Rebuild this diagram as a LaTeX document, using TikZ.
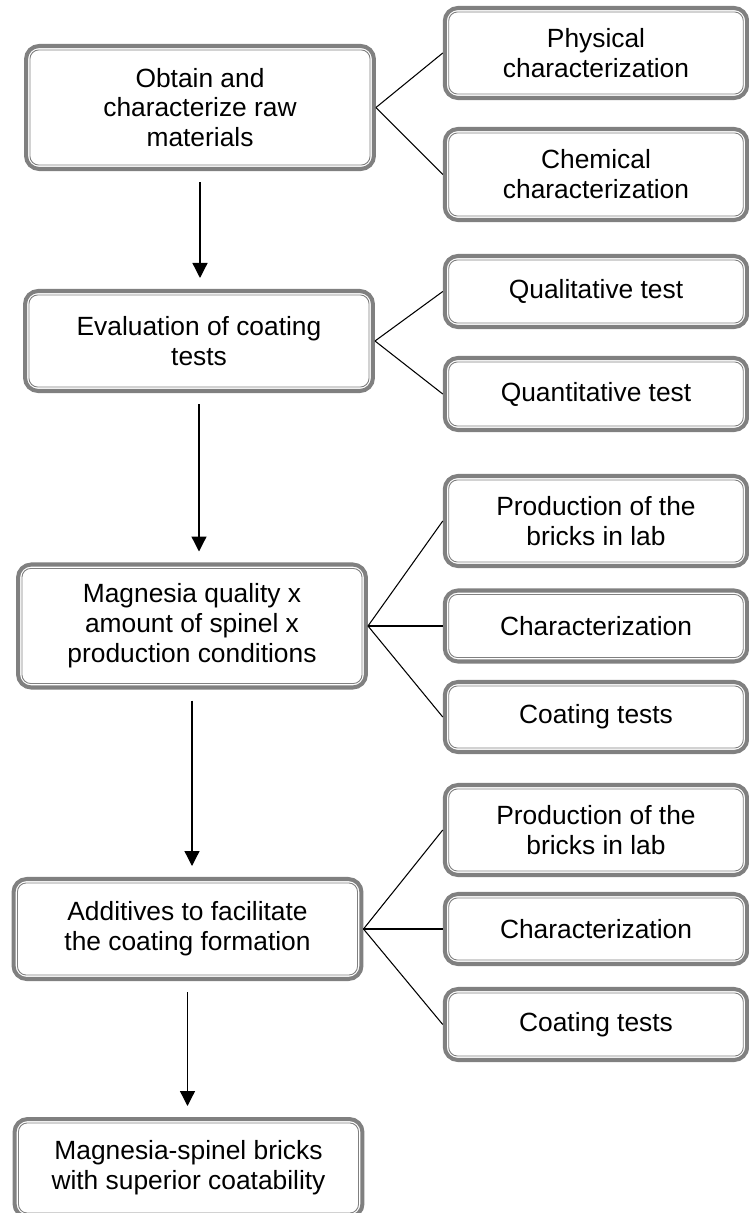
\documentclass[tikz,border=0pt]{standalone}
\usepackage{fontspec}
\setmainfont{Liberation Sans}
\usetikzlibrary{arrows.meta}
\definecolor{frameGray}{RGB}{128,128,128}

\begin{document}
\begin{tikzpicture}[x = 0.02cm, y = -0.02cm]
	\tikzstyle{boxStyle} = [draw = frameGray, line width = 2.3pt, rounded corners = 7.5pt, align = center, inner sep = 2pt, font = \fontsize{15}{17}\selectfont]
	\tikzstyle{stepStyle} = [boxStyle, minimum width = 6.96cm]
	\tikzstyle{taskStyle} = [boxStyle, minimum width = 6.05cm]
	\tikzstyle{innerStyle} = [draw = frameGray, line width = 0.5pt, rounded corners = 5pt]
	\tikzstyle{arrowStyle} = [-{Triangle[length = 0.3cm, width = 0.3cm]}, line width = 0.75pt, shorten < = 0.22cm, shorten > = 0.22cm]
	\tikzstyle{lineStyle} = [line width = 0.6pt]
	\path[use as bounding box, fill = white] (0, 0) rectangle (749, 1213);
	\node[stepStyle, minimum height = 2.46cm] (raw) at (200, 107.5) {Obtain and\\characterize raw\\materials};
	\node[stepStyle, minimum height = 2.0cm] (eval) at (199, 341) {Evaluation of coating\\tests};
	\node[stepStyle, minimum height = 2.46cm] (magn) at (192, 626) {Magnesia quality x\\amount of spinel x\\production conditions};
	\node[stepStyle, minimum height = 2.0cm] (addit) at (187.5, 929) {Additives to facilitate\\the coating formation};
	\node[stepStyle, minimum height = 1.96cm] (final) at (188.5, 1168) {Magnesia-spinel bricks\\with superior coatability};
	\node[taskStyle, minimum height = 1.8cm] (phys) at (596, 53) {Physical\\characterization};
	\node[taskStyle, minimum height = 1.82cm] (chem) at (596, 174.5) {Chemical\\characterization};
	\node[taskStyle, minimum height = 1.42cm] (qual) at (596, 291.5) {Qualitative test};
	\node[taskStyle, minimum height = 1.44cm] (quant) at (596, 394) {Quantitative test};
	\node[taskStyle, minimum height = 1.8cm] (prod1) at (596, 521) {Production of the\\bricks in lab};
	\node[taskStyle, minimum height = 1.42cm] (char1) at (596, 626) {Characterization};
	\node[taskStyle, minimum height = 1.4cm] (coat1) at (596, 717) {Coating tests};
	\node[taskStyle, minimum height = 1.8cm] (prod2) at (596, 830) {Production of the\\bricks in lab};
	\node[taskStyle, minimum height = 1.4cm] (char2) at (596, 929) {Characterization};
	\node[taskStyle, minimum height = 1.42cm] (coat2) at (596, 1024.5) {Coating tests};
	\foreach \n in {raw, eval, magn, addit, final, phys, chem, qual, quant, prod1, char1, coat1, prod2, char2, coat2}
		\draw[innerStyle] ([shift = {(3.4pt, -3.4pt)}]\n.north west) rectangle ([shift = {(-3.4pt, 3.4pt)}]\n.south east);
	\draw[arrowStyle] (raw) -- (raw |- eval.north);
	\draw[arrowStyle] (eval) -- (eval |- magn.north);
	\draw[arrowStyle] (magn) -- (magn |- addit.north);
	\draw[arrowStyle] (addit) -- (addit |- final.north);
	\foreach \t in {phys, chem}
		\draw[lineStyle] (raw.east) -- (\t.west);
	\foreach \t in {qual, quant}
		\draw[lineStyle] (eval.east) -- (\t.west);
	\foreach \t in {prod1, char1, coat1}
		\draw[lineStyle] (magn.east) -- (\t.west);
	\foreach \t in {prod2, char2, coat2}
		\draw[lineStyle] (addit.east) -- (\t.west);
\end{tikzpicture}
\end{document}
